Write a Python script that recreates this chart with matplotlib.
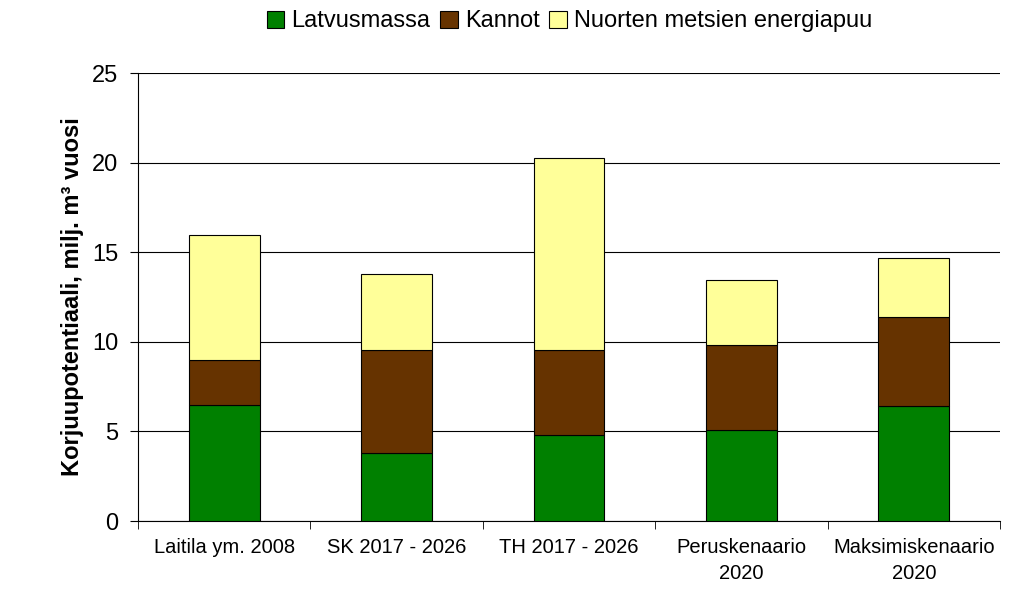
import matplotlib
matplotlib.use("Agg")
from matplotlib import pyplot as plt
import numpy as np

plt.rcParams['font.family'] = ['Liberation Sans', 'DejaVu Sans']

# Data
categories = ["Laitila ym. 2008", "SK 2017 - 2026", "TH 2017 - 2026",
              "Peruskenaario\n2020", "Maksimiskenaario\n2020"]
latvusmassa = [6.5, 3.8, 4.8, 5.1, 6.4]
kannot = [2.5, 5.75, 4.75, 4.7, 5.0]
nuorten = [6.95, 4.25, 10.7, 3.65, 3.3]

fig = plt.figure(figsize=(10.24, 5.99), dpi=100)
ax = fig.add_axes([0.1348, 0.1302, 0.8418, 0.7478])

x = np.arange(len(categories))
w = 0.41
b1 = np.array(latvusmassa)
b2 = b1 + np.array(kannot)
ax.bar(x, latvusmassa, w, color="#008000", edgecolor="black", linewidth=0.8,
       label="Latvusmassa", zorder=3)
ax.bar(x, kannot, w, bottom=b1, color="#663300", edgecolor="black", linewidth=0.8,
       label="Kannot", zorder=3)
ax.bar(x, nuorten, w, bottom=b2, color="#FFFF99", edgecolor="black", linewidth=0.8,
       label="Nuorten metsien energiapuu", zorder=3)

ax.set_xlim(-0.5, len(categories) - 0.5)
ax.set_ylim(0, 25)
ax.set_yticks(np.arange(0, 26, 5))
ax.yaxis.grid(True, color="black", linewidth=0.8, zorder=0)
ax.set_xticks(x)
ax.set_xticklabels(categories, fontsize=14.5, linespacing=1.5)
ax.set_xticks(np.arange(-0.5, len(categories)), minor=True)
ax.tick_params(axis="x", which="major", length=0, pad=12)
ax.tick_params(axis="x", which="minor", length=6, direction="out", color="black")
ax.tick_params(axis="y", labelsize=17, length=6, direction="out", pad=8)
for s in ["top", "right"]:
    ax.spines[s].set_visible(False)
ax.spines["left"].set_color("black")
ax.spines["bottom"].set_color("black")
ax.set_ylabel("Korjuupotentiaali, milj. m³ vuosi", fontsize=17, fontweight="bold",
              labelpad=6)

fig.legend(loc="upper center", bbox_to_anchor=(0.556, 1.018), ncol=3, frameon=False,
           fontsize=17, handlelength=0.75, handleheight=0.75, handletextpad=0.3,
           columnspacing=0.4)

fig.savefig("out.png", dpi=100)
